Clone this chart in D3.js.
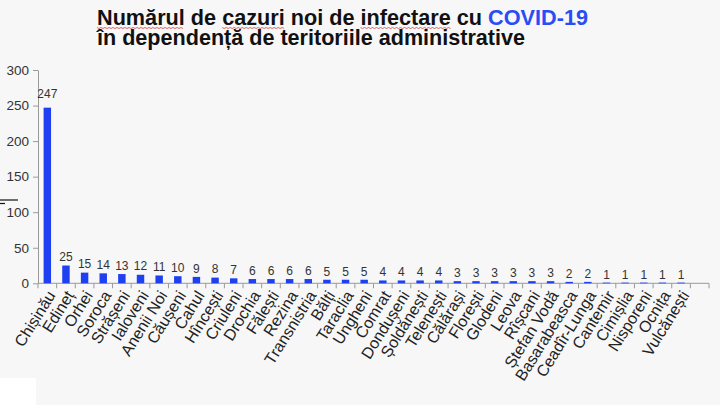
<!DOCTYPE html>
<html>
<head>
<meta charset="utf-8">
<script src="https://cdn.jsdelivr.net/npm/d3@7"></script>
<style>
  html, body { margin: 0; padding: 0; background: #f7f7f7; }
  svg { display: block; }
</style>
</head>
<body>
<svg id="chart" width="720" height="405"></svg>
<script>
const categories = ["Chișinău","Edineț","Orhei","Soroca","Strășeni","Ialoveni","Anenii Noi","Căușeni","Cahul","Hîncești","Criuleni","Drochia","Fălești","Rezina","Transnistria","Bălți","Taraclia","Ungheni","Comrat","Dondușeni","Șoldănești","Telenești","Călărași","Florești","Glodeni","Leova","Rîșcani","Ștefan Vodă","Basarabeasca","Ceadîr-Lunga","Cantemir","Cimișlia","Nisporeni","Ocnița","Vulcănești"];
const values = [247,25,15,14,13,12,11,10,9,8,7,6,6,6,6,5,5,5,4,4,4,4,3,3,3,3,3,3,2,2,1,1,1,1,1];
const yTicks = [0,50,100,150,200,250,300];
const titleLine1 = ["Numărul de cazuri noi de infectare cu ", "COVID-19"];
const titleLine2 = "în dependență de teritoriile administrative";
const misspelled = ["Numărul", "cazuri", "infectare"];

(function () {
const svg = d3.select("#chart");
const W = 720, H = 405;
svg.append("rect").attr("width", W).attr("height", H).attr("fill", "#f7f7f7");

const mLeft = 38, mRight = 709, mTop = 70, mBottom = 283.3;
const slots = categories.concat([""]); // trailing empty slot
const x = d3.scaleBand().domain(d3.range(slots.length)).range([mLeft, mRight]).padding(0);
const y = d3.scaleLinear().domain([0, 300]).range([mBottom, mTop]);

const font = "'Liberation Sans', Arial, sans-serif";

// Y axis
const yAxis = svg.append("g").attr("transform", `translate(${mLeft},0)`)
  .call(d3.axisLeft(y).tickValues(yTicks).tickSize(5).tickPadding(4).tickSizeOuter(0));
yAxis.select(".domain").attr("stroke", "#9a9a9a");
yAxis.selectAll(".tick line").attr("stroke", "#9a9a9a");
yAxis.selectAll(".tick text").attr("fill", "#333").style("font-family", font).style("font-size", "13.5px");

// X axis baseline with ticks at slot boundaries
const xg = svg.append("g");
xg.append("line").attr("x1", mLeft).attr("x2", mRight).attr("y1", mBottom).attr("y2", mBottom).attr("stroke", "#9a9a9a");
xg.selectAll("line.tk").data(d3.range(slots.length + 1)).join("line").attr("class", "tk")
  .attr("x1", i => mLeft + i * x.step()).attr("x2", i => mLeft + i * x.step())
  .attr("y1", mBottom).attr("y2", mBottom + 5).attr("stroke", "#9a9a9a");

// Bars
const bw = x.bandwidth() * 0.4;
svg.selectAll("rect.bar").data(values).join("rect").attr("class", "bar")
  .attr("x", (d, i) => x(i) + x.bandwidth() / 2 - bw / 2)
  .attr("y", d => y(d))
  .attr("width", bw)
  .attr("height", d => mBottom - y(d))
  .attr("fill", "#1e40f0");

// Value labels (gap grows slightly with bar height, as in the source)
svg.selectAll("text.val").data(values).join("text").attr("class", "val")
  .attr("x", (d, i) => x(i) + x.bandwidth() / 2)
  .attr("y", d => y(d) - 4 - (mBottom - y(d)) * 0.034)
  .attr("text-anchor", "middle")
  .attr("fill", "#333")
  .style("font-family", font).style("font-size", "12px")
  .text(d => d);

// Category labels
svg.selectAll("text.cat").data(categories).join("text").attr("class", "cat")
  .attr("transform", (d, i) => `translate(${x(i) + x.bandwidth() / 2 + 4},${mBottom + 9}) rotate(-58)`)
  .attr("text-anchor", "end")
  .attr("dy", "0.35em")
  .attr("fill", "#222")
  .style("font-family", font).style("font-size", "16px")
  .text(d => d);

// Title
const fsT = 21.5;
const t1 = svg.append("text").attr("x", 97).attr("y", 24.5)
  .style("font-family", font).style("font-weight", "bold").style("font-size", fsT + "px").attr("fill", "#111");
t1.append("tspan").text(titleLine1[0]);
t1.append("tspan").attr("fill", "#2a4cf5").text(titleLine1[1]);
const nat1 = t1.node().getComputedTextLength();
const target1 = 491;
t1.attr("textLength", target1).attr("lengthAdjust", "spacingAndGlyphs");
const sc1 = target1 / nat1;

const t2 = svg.append("text").attr("x", 97).attr("y", 44.5)
  .style("font-family", font).style("font-weight", "bold").style("font-size", fsT + "px").attr("fill", "#111")
  .text(titleLine2);
t2.attr("textLength", 428).attr("lengthAdjust", "spacingAndGlyphs");

// Spell-check style red wavy underlines
const full1 = titleLine1.join("");
const tmp = svg.append("text").style("font-family", font).style("font-weight", "bold").style("font-size", fsT + "px")
  .attr("opacity", 0).text(full1);
misspelled.forEach(word => {
  const idx = full1.indexOf(word);
  const sx = 97 + (idx > 0 ? tmp.node().getSubStringLength(0, idx) : 0) * sc1;
  const ww = tmp.node().getSubStringLength(idx, word.length) * sc1;
  const pts = [];
  for (let px = 0; px <= ww; px += 2) pts.push([sx + px, 27.5 + ((px / 2) % 2 ? 1 : 0)]);
  svg.append("path").attr("d", d3.line()(pts)).attr("fill", "none").attr("stroke", "#d04040").attr("stroke-width", 0.8);
});
tmp.remove();

// Stray marks at left edge
svg.append("line").attr("x1", 0).attr("x2", 18).attr("y1", 200).attr("y2", 200).attr("stroke", "#111").attr("stroke-width", 1.2);
svg.append("line").attr("x1", 0).attr("x2", 5).attr("y1", 203.5).attr("y2", 203.5).attr("stroke", "#111").attr("stroke-width", 1.2);
svg.append("rect").attr("x", 0).attr("y", 378).attr("width", 36).attr("height", 27).attr("fill", "#ffffff");
})();
</script>
</body>
</html>
